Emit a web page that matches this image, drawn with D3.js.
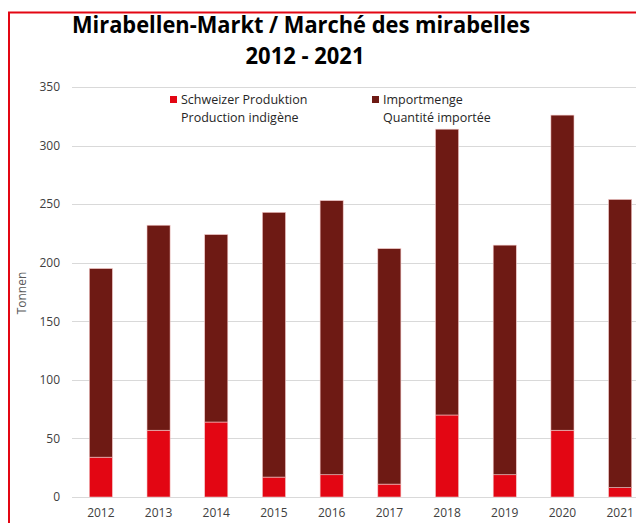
<!DOCTYPE html>
<html>
<head>
<meta charset="utf-8">
<script src="https://cdn.jsdelivr.net/npm/d3@7"></script>
<style>
body { margin: 0; background: #fff; }
svg text { font-family: "Open Sans", "DejaVu Sans", sans-serif; }
</style>
</head>
<body>
<div id="chart"></div>
<script>
// data (tonnes)
var years = ["2012", "2013", "2014", "2015", "2016", "2017", "2018", "2019", "2020", "2021"];
var production = [34, 57, 64, 17, 19, 11, 70, 19, 57, 8];
var imports = [161, 175, 160, 226, 234, 201, 244, 196, 269, 246];
var yTicks = [0, 50, 100, 150, 200, 250, 300, 350];

var W = 636, H = 523;
var margin = {top: 87, left: 72, bottom: 26};
var plotW = 577, plotH = H - margin.top - margin.bottom;

var svg = d3.select("#chart").append("svg")
  .attr("width", W)
  .attr("height", H);

// red frame (chart is cropped on the right and bottom)
svg.append("path")
  .attr("d", "M9," + H + "V12.5H" + W)
  .attr("fill", "none")
  .attr("stroke", "#e30613")
  .attr("stroke-width", 2);

var x = d3.scaleBand()
  .domain(years)
  .range([margin.left, margin.left + plotW])
  .paddingInner(0.6)
  .paddingOuter(0.3);

var y = d3.scaleLinear()
  .domain([0, 350])
  .range([margin.top + plotH, margin.top]);

// gridlines
svg.append("g")
  .selectAll("line")
  .data(yTicks)
  .enter()
  .append("line")
  .attr("x1", margin.left)
  .attr("x2", margin.left + plotW)
  .attr("y1", d => Math.round(y(d)) + 0.5)
  .attr("y2", d => Math.round(y(d)) + 0.5)
  .attr("stroke", "#d9d9d9")
  .attr("stroke-width", 1);

// stacked bars
var stack = d3.stack().keys(["production", "imports"]);
var rows = years.map((yr, i) => ({year: yr, production: production[i], imports: imports[i]}));
var colors = {production: "#e30613", imports: "#6e1a14"};

svg.append("g")
  .selectAll("g")
  .data(stack(rows))
  .enter()
  .append("g")
  .attr("fill", d => colors[d.key])
  .selectAll("rect")
  .data(d => d)
  .enter()
  .append("rect")
  .attr("x", d => x(d.data.year))
  .attr("y", d => y(d[1]))
  .attr("width", x.bandwidth())
  .attr("height", d => y(d[0]) - y(d[1]))
  .attr("stroke", "#f2c6c6")
  .attr("stroke-width", 0.6);

// y axis labels
var yAxis = svg.append("g")
  .attr("transform", "translate(" + margin.left + ",0)")
  .call(d3.axisLeft(y).tickValues(yTicks).tickSize(0).tickPadding(12));
yAxis.select(".domain").remove();
yAxis.selectAll("text")
  .attr("font-size", 12)
  .attr("fill", "#404040")
  .attr("font-family", "Open Sans, sans-serif");

// x axis labels
var xAxis = svg.append("g")
  .attr("transform", "translate(0," + (margin.top + plotH) + ")")
  .call(d3.axisBottom(x).tickSize(0).tickPadding(11));
xAxis.select(".domain").remove();
xAxis.selectAll("text")
  .attr("font-size", 12)
  .attr("fill", "#404040")
  .attr("font-family", "Open Sans, sans-serif");

// y axis title
svg.append("text")
  .attr("transform", "translate(26,293) rotate(-90)")
  .attr("text-anchor", "middle")
  .attr("font-size", 12)
  .attr("fill", "#595959")
  .text("Tonnen");

// title
svg.append("text")
  .attr("x", 301)
  .attr("y", 33)
  .attr("text-anchor", "middle")
  .attr("font-size", 24)
  .attr("font-weight", "bold")
  .attr("fill", "#000")
  .attr("textLength", 458)
  .attr("lengthAdjust", "spacingAndGlyphs")
  .text("Mirabellen-Markt / Marché des mirabelles");

svg.append("text")
  .attr("x", 305)
  .attr("y", 64)
  .attr("text-anchor", "middle")
  .attr("font-size", 24)
  .attr("font-weight", "bold")
  .attr("fill", "#000")
  .attr("textLength", 119)
  .attr("lengthAdjust", "spacingAndGlyphs")
  .text("2012 - 2021");

// legend
var legend = [
  {x: 170, color: colors.production, lines: ["Schweizer Produktion", "Production indigène"]},
  {x: 372, color: colors.imports, lines: ["Importmenge", "Quantité importée"]}
];
var lg = svg.append("g")
  .selectAll("g")
  .data(legend)
  .enter()
  .append("g")
  .attr("transform", d => "translate(" + d.x + ",0)");
lg.append("rect")
  .attr("x", 0)
  .attr("y", 96)
  .attr("width", 7)
  .attr("height", 7)
  .attr("fill", d => d.color);
lg.selectAll("text")
  .data(d => d.lines)
  .enter()
  .append("text")
  .attr("x", 11)
  .attr("y", (d, i) => 104 + i * 18)
  .attr("font-size", 12.5)
  .attr("fill", "#262626")
  .text(d => d);
</script>
</body>
</html>
